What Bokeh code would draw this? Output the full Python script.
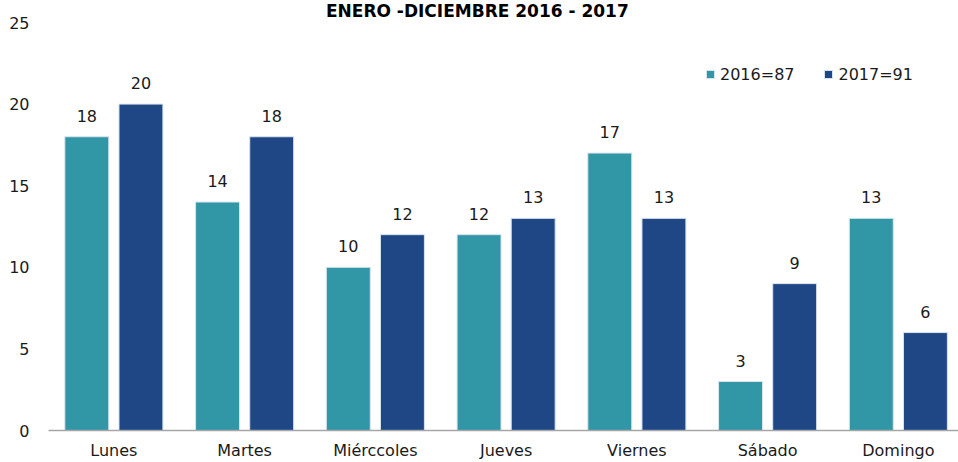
from bokeh.plotting import figure
from bokeh.models import ColumnDataSource, Range1d, FixedTicker, Legend, LegendItem, Label
from bokeh.core.properties import value
from bokeh.embed import file_html
from bokeh.resources import INLINE

dias = ["Lunes", "Martes", "Miérccoles", "Jueves", "Viernes", "Sábado", "Domingo"]
v2016 = [18, 14, 10, 12, 17, 3, 13]
v2017 = [20, 18, 12, 13, 13, 9, 6]
serie_2016 = "2016=87"
serie_2017 = "2017=91"
titulo = "ENERO -DICIEMBRE 2016 - 2017"
y_ticks = [0, 5, 10, 15, 20, 25]

TEAL = "#3196A6"
NAVY = "#1F4786"
FONT = "DejaVu Sans"

idx = [i + 0.5 for i in range(len(dias))]
off = 0.207
bw = 0.336

s16 = ColumnDataSource(dict(x=[c - off for c in idx], y=v2016, t=[str(v) for v in v2016]))
s17 = ColumnDataSource(dict(x=[c + off for c in idx], y=v2017, t=[str(v) for v in v2017]))

p = figure(width=958, height=462, output_backend="svg", toolbar_location=None,
           x_range=Range1d(0, 6.96), y_range=Range1d(0, 26.35),
           min_border_left=48, min_border_right=0, min_border_top=0, min_border_bottom=32)
p.outline_line_color = None
p.grid.grid_line_color = None
p.background_fill_color = "white"

r16 = p.vbar(x="x", top="y", width=bw, source=s16, fill_color=TEAL, line_color="#D8E4EC", line_width=1)
r17 = p.vbar(x="x", top="y", width=bw, source=s17, fill_color=NAVY, line_color="#D8E4EC", line_width=1)

for src in (s16, s17):
    p.text(x="x", y="y", text="t", source=src, text_align="center", text_baseline="alphabetic",
           y_offset=-21, text_font=value(FONT), text_font_size="16px", text_color="#1a1a1a")

# axes
p.xaxis.ticker = FixedTicker(ticks=idx)
p.xaxis.major_label_overrides = {c: d for c, d in zip(idx, dias)}
p.xaxis.major_tick_line_color = None
p.xaxis.major_tick_out = 0
p.xaxis.major_tick_in = 0
p.xaxis.minor_tick_line_color = None
p.xaxis.minor_tick_out = 0
p.xaxis.axis_label_standoff = 0
p.xaxis.axis_line_color = "#A6A6A6"
p.xaxis.axis_line_width = 1.5
p.xaxis.major_label_standoff = 10
p.xaxis.major_label_text_font = FONT
p.xaxis.major_label_text_font_size = "16px"
p.xaxis.major_label_text_color = "#1a1a1a"

p.yaxis.ticker = FixedTicker(ticks=y_ticks)
p.yaxis.axis_line_color = None
p.yaxis.major_tick_line_color = None
p.yaxis.major_tick_out = 0
p.yaxis.major_tick_in = 0
p.yaxis.minor_tick_line_color = None
p.yaxis.minor_tick_out = 0
p.yaxis.axis_label_standoff = 0
p.yaxis.major_label_standoff = 19
p.yaxis.major_label_text_font = FONT
p.yaxis.major_label_text_font_size = "16px"
p.yaxis.major_label_text_color = "#1a1a1a"

legend = Legend(items=[LegendItem(label=serie_2016, renderers=[r16]),
                       LegendItem(label=serie_2017, renderers=[r17])],
                orientation="horizontal", location=(657, 346),
                glyph_width=10, glyph_height=10, label_standoff=5, spacing=29,
                padding=0, margin=0, border_line_color=None, background_fill_alpha=0,
                label_text_font=FONT, label_text_font_size="16px", label_text_color="#1a1a1a",
                label_height=20)
p.add_layout(legend)

p.add_layout(Label(x=3.28, y=26.35, text=titulo, text_align="center", text_baseline="top",
                   text_font=FONT, text_font_size="17px", text_font_style="bold",
                   text_color="#000000"))

open("out.html", "w").write(file_html(p, INLINE))
